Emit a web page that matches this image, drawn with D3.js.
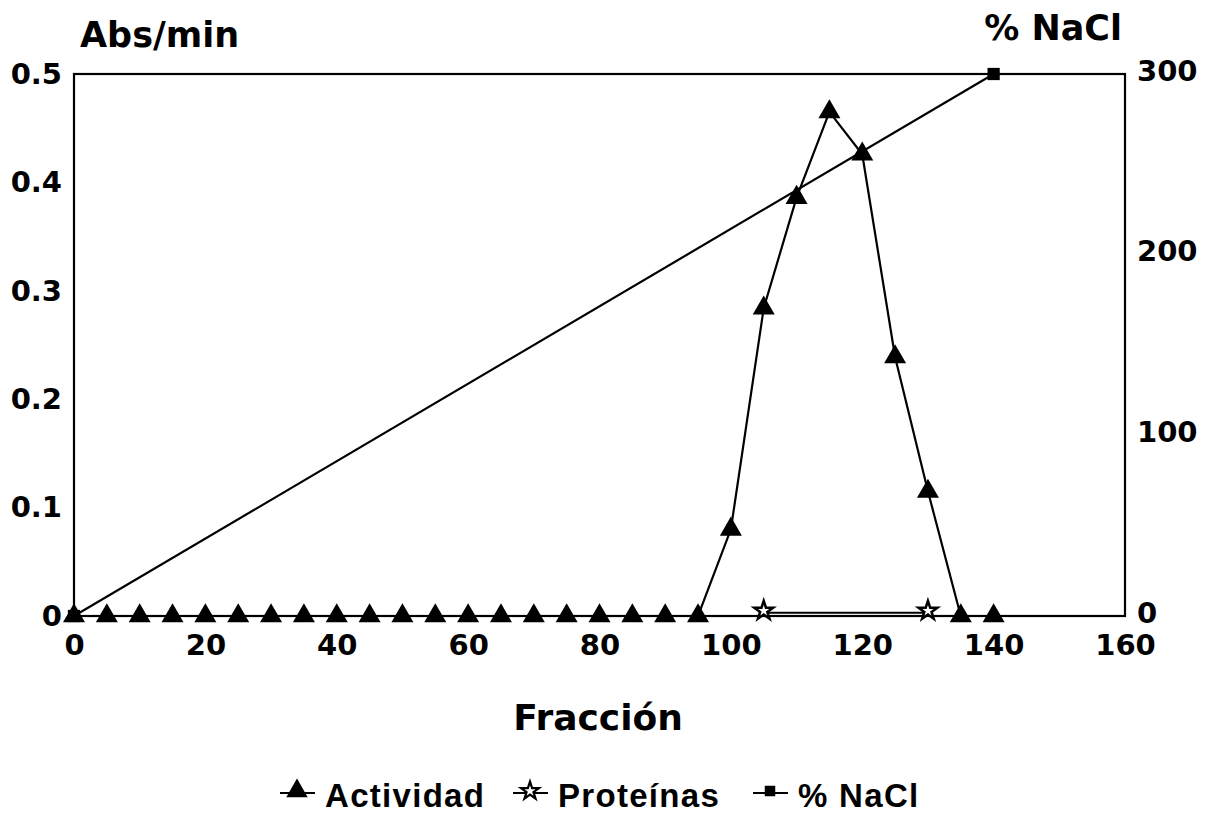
<!DOCTYPE html>
<html>
<head>
<meta charset="utf-8">
<script src="https://cdn.jsdelivr.net/npm/d3@7"></script>
<style>
  body { margin: 0; background: #fff; }
  text { font-family: "DejaVu Sans", Arial, sans-serif; font-weight: bold; fill: #000; }
  .legend text { font-family: "Liberation Sans", Arial, sans-serif; }
</style>
</head>
<body>
<div class="chart"></div>
<script>
// data
var fractions = [0, 5, 10, 15, 20, 25, 30, 35, 40, 45, 50, 55, 60, 65, 70, 75, 80, 85, 90, 95,
                 100, 105, 110, 115, 120, 125, 130, 135, 140];
var actividad = [0, 0, 0, 0, 0, 0, 0, 0, 0, 0, 0, 0, 0, 0, 0, 0, 0, 0, 0, 0,
                 0.08, 0.284, 0.386, 0.465, 0.426, 0.239, 0.115, 0, 0];
var protFractions = [105, 130];
var proteinas = [0.003, 0.003];
var naclFractions = [0, 140];
var nacl = [0, 300];

var xTicks = [0, 20, 40, 60, 80, 100, 120, 140, 160];
var yTicks = [0, 0.1, 0.2, 0.3, 0.4, 0.5];
var y2Ticks = [0, 100, 200, 300];
var yTickLabels = ["0", "0.1", "0.2", "0.3", "0.4", "0.5"];

var svgWidth = 1212;
var svgHeight = 813;

var margin = { top: 74, right: 87, bottom: 197, left: 74 };
var width = svgWidth - margin.left - margin.right;
var height = svgHeight - margin.top - margin.bottom;

var svg = d3.select(".chart")
    .append("svg")
    .attr("width", svgWidth)
    .attr("height", svgHeight);

var chartGroup = svg.append("g")
    .attr("transform", `translate(${margin.left}, ${margin.top})`);

var xScale = d3.scaleLinear().domain([0, 160]).range([0, width]);
var yScale = d3.scaleLinear().domain([0, 0.5]).range([height, 0]);
var y2Scale = d3.scaleLinear().domain([0, 300]).range([height, 0]);

// frame
chartGroup.append("rect")
    .attr("x", 0).attr("y", 0)
    .attr("width", width).attr("height", height)
    .attr("fill", "none")
    .attr("stroke", "#000")
    .attr("stroke-width", 2.2);

// axes (labels only, no tick marks)
var bottomAxis = d3.axisBottom(xScale).tickValues(xTicks).tickSize(0).tickPadding(18);
var leftAxis = d3.axisLeft(yScale).tickValues(yTicks).tickSize(0).tickPadding(12)
    .tickFormat((d, i) => yTickLabels[i]);
var rightAxis = d3.axisRight(y2Scale).tickValues(y2Ticks).tickSize(0).tickPadding(12);

function styleAxis(g) {
    g.select(".domain").remove();
    g.selectAll("text").style("font-size", "29px");
}

chartGroup.append("g")
    .attr("transform", `translate(0, ${height})`)
    .call(bottomAxis)
    .call(styleAxis);

chartGroup.append("g")
    .call(leftAxis)
    .call(styleAxis);

chartGroup.append("g")
    .attr("transform", `translate(${width}, 0)`)
    .call(rightAxis)
    .call(styleAxis)
    .selectAll("text")
    .attr("y", -3);

// axis titles
svg.append("text")
    .attr("x", 80).attr("y", 47)
    .style("font-size", "35px")
    .text("Abs/min");

svg.append("text")
    .attr("x", 1122).attr("y", 40)
    .attr("text-anchor", "end")
    .style("font-size", "35px")
    .text("% NaCl");

svg.append("text")
    .attr("x", 598).attr("y", 730)
    .attr("text-anchor", "middle")
    .style("font-size", "36px")
    .text("Fracción");

var line = d3.line();

// NaCl line
var naclData = naclFractions.map((f, i) => [xScale(f), y2Scale(nacl[i])]);
chartGroup.append("path")
    .attr("d", line(naclData))
    .attr("fill", "none").attr("stroke", "#000").attr("stroke-width", 2.2);

// proteins line
var protData = protFractions.map((f, i) => [xScale(f), yScale(proteinas[i])]);
chartGroup.append("path")
    .attr("d", line(protData))
    .attr("fill", "none").attr("stroke", "#000").attr("stroke-width", 2.2);

// activity line
var actData = fractions.map((f, i) => [xScale(f), yScale(actividad[i])]);
chartGroup.append("path")
    .attr("d", line(actData))
    .attr("fill", "none").attr("stroke", "#000").attr("stroke-width", 2.2);

var triangle = d3.symbol().type(d3.symbolTriangle).size(210);
var star = d3.symbol().type(d3.symbolStar).size(110);
var square = d3.symbol().type(d3.symbolSquare).size(150);

// activity markers
chartGroup.selectAll(".tri")
    .data(actData)
    .enter()
    .append("path")
    .attr("class", "tri")
    .attr("transform", d => `translate(${d[0]}, ${d[1]})`)
    .attr("d", triangle)
    .attr("fill", "#000");

// protein markers
chartGroup.selectAll(".star")
    .data(protData)
    .enter()
    .append("path")
    .attr("class", "star")
    .attr("transform", d => `translate(${d[0]}, ${d[1] - 2})`)
    .attr("d", star)
    .attr("fill", "#fff")
    .attr("stroke", "#000")
    .attr("stroke-width", 2.5);

// NaCl markers
chartGroup.selectAll(".sq")
    .data(naclData)
    .enter()
    .append("path")
    .attr("class", "sq")
    .attr("transform", d => `translate(${d[0]}, ${d[1]})`)
    .attr("d", square)
    .attr("fill", "#000");

// legend
var legendItems = [
    { label: "Actividad", sym: d3.symbol().type(d3.symbolTriangle).size(200), fill: "#000", x: 280 },
    { label: "Proteínas", sym: d3.symbol().type(d3.symbolStar).size(100), fill: "#fff", x: 513 },
    { label: "% NaCl", sym: d3.symbol().type(d3.symbolSquare).size(110), fill: "#000", x: 753 }
];

var legend = svg.append("g").attr("class", "legend").attr("transform", "translate(0, 807)");

legendItems.forEach(function(item) {
    var g = legend.append("g").attr("transform", `translate(${item.x}, 0)`);
    g.append("line")
        .attr("x1", 0).attr("x2", 35)
        .attr("y1", -14).attr("y2", -14)
        .attr("stroke", "#000").attr("stroke-width", 2.2);
    g.append("path")
        .attr("transform", "translate(17, -16)")
        .attr("d", item.sym)
        .attr("fill", item.fill)
        .attr("stroke", item.fill === "#fff" ? "#000" : "none")
        .attr("stroke-width", 2.2);
    g.append("text")
        .attr("x", 45).attr("y", 0)
        .style("font-size", "33px")
        .style("letter-spacing", "1.3px")
        .text(item.label);
});
</script>
</body>
</html>
